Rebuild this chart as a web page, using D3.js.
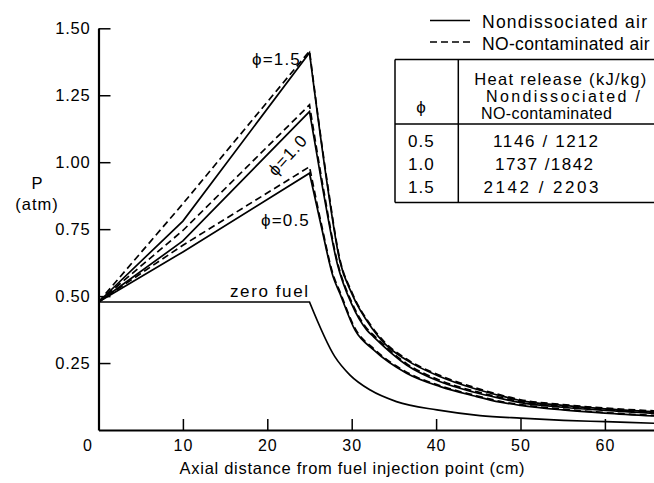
<!DOCTYPE html>
<html>
<head>
<meta charset="utf-8">
<script src="https://cdn.jsdelivr.net/npm/d3@7"></script>
<style>
body { margin: 0; background: #fff; }
svg text { font-family: "Liberation Sans", Arial, Helvetica, sans-serif; fill: #000; }
</style>
</head>
<body>
<svg id="chart" width="654" height="483"></svg>
<script>
// ---- data (x in cm, P in atm) ----
var xTicks = [0, 10, 20, 30, 40, 50, 60];
var yTicks = [0.25, 0.50, 0.75, 1.00, 1.25, 1.50];

var zeroFuel = [[0,0.478],[25,0.478],[28,0.274],[29.8,0.205],[32.2,0.149],[35.3,0.106],[40.1,0.075],[45.2,0.054],[50,0.044],[55.1,0.036],[60.1,0.031],[66,0.025]];

var phi05Solid  = [[0,0.478],[10,0.665],[25,0.959],[26.4,0.76],[27.8,0.572],[28.6,0.51],[30.4,0.373],[32.6,0.299],[36.5,0.212],[40.5,0.162],[44.4,0.128],[47.6,0.104],[50,0.092],[55,0.075],[60,0.063],[66,0.052]];
var phi05Dashed = [[0,0.478],[10,0.69],[25,0.983],[26.4,0.77],[27.8,0.58],[28.6,0.517],[30.4,0.379],[32.6,0.304],[36.5,0.216],[40.5,0.165],[44.4,0.131],[47.6,0.107],[50,0.095],[55,0.078],[60,0.065],[66,0.054]];

var phi10Solid  = [[0,0.478],[10,0.706],[25,1.189],[26.6,0.896],[28.3,0.62],[30,0.47],[31.8,0.373],[32.6,0.348],[36.5,0.243],[40.5,0.18],[44.4,0.142],[47.6,0.118],[50,0.102],[55,0.085],[60,0.073],[66,0.062]];
var phi10Dashed = [[0,0.478],[10,0.745],[25,1.214],[26.6,0.91],[28.3,0.628],[30,0.477],[31.8,0.379],[32.6,0.354],[36.5,0.248],[40.5,0.185],[44.4,0.146],[47.6,0.122],[50,0.106],[55,0.088],[60,0.076],[66,0.065]];

var phi15Solid  = [[0,0.478],[10,0.78],[25,1.409],[27.2,0.896],[28.6,0.63],[30,0.51],[32.4,0.38],[34,0.32],[36.5,0.261],[40.5,0.199],[44.4,0.156],[47.6,0.128],[50,0.11],[55,0.092],[60,0.079],[66,0.068]];
var phi15Dashed = [[0,0.478],[10,0.845],[25,1.415],[27.2,0.905],[28.6,0.637],[30,0.516],[32.4,0.385],[34,0.325],[36.5,0.265],[40.5,0.203],[44.4,0.16],[47.6,0.131],[50,0.113],[55,0.095],[60,0.082],[66,0.071]];

var legendLabels = ["Nondissociated air", "NO-contaminated air"];
var tableHeader = ["Heat release (kJ/kg)", "Nondissociated /", "NO-contaminated"];
var tablePhi = ["0.5", "1.0", "1.5"];
var tableHeat = ["1146 / 1212", "1737 /1842", "2142 / 2203"];

// ---- setup ----
var svg = d3.select("#chart");
var x = d3.scaleLinear().domain([0, 70]).range([98.5, 98.5 + 590.8]);
var y = d3.scaleLinear().domain([0, 1.5]).range([430, 28.3]);
var font = "\"Liberation Sans\", Arial, Helvetica, sans-serif";

// axes with inward ticks
var xAxis = d3.axisBottom(x).tickValues(xTicks).tickSizeInner(-11).tickSizeOuter(0).tickPadding(10);
var gx = svg.append("g").attr("transform", "translate(0,430)").call(xAxis);
gx.selectAll("text").style("font-size", "16px").style("letter-spacing", "1px").attr("fill", "#000")
    .style("font-family", font)
    .attr("dx", function(d){ return d === 0 ? -11 : 0; });
gx.selectAll(".tick line").filter(function(d){ return d === 0; }).remove();

var yAxis = d3.axisLeft(y).tickValues(yTicks).tickSizeInner(-12).tickSizeOuter(0).tickPadding(8).tickFormat(d3.format(".2f"));
var gy = svg.append("g").attr("transform", "translate(98.5,0)").call(yAxis);
gy.selectAll("text").style("font-size", "16.5px").style("letter-spacing", "0.8px").attr("fill", "#000").style("font-family", font);

svg.selectAll(".domain").attr("stroke", "#000").attr("stroke-width", 2.2);
svg.selectAll(".tick line").attr("stroke", "#000").attr("stroke-width", 1.5);

// axis titles
svg.append("text").attr("x", 179.6).attr("y", 474)
    .style("font-size", "16.5px").attr("textLength", 345).attr("lengthAdjust", "spacing")
    .text("Axial distance from fuel injection point (cm)");
svg.append("text").attr("x", 37).attr("y", 189).attr("text-anchor", "middle")
    .style("font-size", "16.5px").text("P");
svg.append("text").attr("x", 37).attr("y", 210).attr("text-anchor", "middle")
    .style("font-size", "16.5px").style("letter-spacing", "1px").text("(atm)");

// ---- curves ----
var series = [
    { pts: zeroFuel,    dash: null },
    { pts: phi05Solid,  dash: null },
    { pts: phi05Dashed, dash: "7,4" },
    { pts: phi10Solid,  dash: null },
    { pts: phi10Dashed, dash: "7,4" },
    { pts: phi15Solid,  dash: null },
    { pts: phi15Dashed, dash: "7,4" }
];

var riseLine = d3.line().x(function(d){ return x(d[0]); }).y(function(d){ return y(d[1]); });
var fallLine = d3.line().x(function(d){ return x(d[0]); }).y(function(d){ return y(d[1]); }).curve(d3.curveMonotoneX);

series.forEach(function(s){
    var rise = s.pts.filter(function(p){ return p[0] <= 25; });
    var fall = s.pts.filter(function(p){ return p[0] >= 25; });
    var d = riseLine(rise) + fallLine(fall).replace(/^M/, "L");
    svg.append("path")
        .attr("d", d)
        .attr("fill", "none")
        .attr("stroke", "#000")
        .attr("stroke-width", 1.7)
        .attr("stroke-linejoin", "miter")
        .attr("stroke-dasharray", s.dash);
});

// curve labels
function label(txt, px, py, anchor, rot){
    var t = svg.append("text").attr("x", px).attr("y", py).attr("text-anchor", anchor)
        .style("font-size", "17px").style("letter-spacing", "1.2px").text(txt);
    if (rot) t.attr("transform", "rotate(" + rot + "," + px + "," + py + ")");
    return t;
}
label("\u03d5=1.5", 301, 65, "end");
label("\u03d5=0.5", 310, 226, "end");
label("\u03d5=1.0", 292, 159, "middle", -47.5);
svg.append("text").attr("x", 230).attr("y", 297)
    .style("font-size", "17px").attr("textLength", 78).attr("lengthAdjust", "spacing").text("zero fuel");

// ---- legend ----
var legendW = [165, 167.5];
var legend = svg.append("g");
[20.5, 42].forEach(function(ly, i){
    legend.append("line").attr("x1", 430).attr("x2", 470).attr("y1", ly).attr("y2", ly)
        .attr("stroke", "#000").attr("stroke-width", 1.7)
        .attr("stroke-dasharray", i === 1 ? "7,4" : null);
    legend.append("text").attr("x", 482).attr("y", ly + 7.5)
        .style("font-size", "17.5px").attr("textLength", legendW[i]).attr("lengthAdjust", "spacing")
        .text(legendLabels[i]);
});

// ---- table ----
var tbl = svg.append("g").attr("stroke", "#000").attr("stroke-width", 1.5);
tbl.append("line").attr("x1", 395).attr("x2", 654).attr("y1", 59.5).attr("y2", 59.5);
tbl.append("line").attr("x1", 395).attr("x2", 654).attr("y1", 202.5).attr("y2", 202.5);
tbl.append("line").attr("x1", 395).attr("x2", 654).attr("y1", 124).attr("y2", 124);
tbl.append("line").attr("x1", 395).attr("x2", 395).attr("y1", 59.5).attr("y2", 202.5);
tbl.append("line").attr("x1", 458.3).attr("x2", 458.3).attr("y1", 59.5).attr("y2", 202.5);

var headX = [474.3, 486, 481];
var headY = [85, 102, 118.5];
var headW = [172, 154, 131];
var headF = ["16.5px", "16px", "16px"];
tableHeader.forEach(function(h, i){
    svg.append("text").attr("x", headX[i]).attr("y", headY[i])
        .style("font-size", headF[i]).attr("textLength", headW[i]).attr("lengthAdjust", "spacing").text(h);
});
svg.append("text").attr("x", 421).attr("y", 113).attr("text-anchor", "middle")
    .style("font-size", "17px").text("\u03d5");

var rowY = [147.3, 170, 193.3];
var heatX = [493, 495, 483.5];
var heatW = [105, 98, 115];
tablePhi.forEach(function(p, i){
    svg.append("text").attr("x", 408).attr("y", rowY[i])
        .style("font-size", "17px").style("letter-spacing", "1px").text(p);
    svg.append("text").attr("x", heatX[i]).attr("y", rowY[i])
        .style("font-size", "17px").attr("textLength", heatW[i]).attr("lengthAdjust", "spacing").text(tableHeat[i]);
});
</script>
</body>
</html>
